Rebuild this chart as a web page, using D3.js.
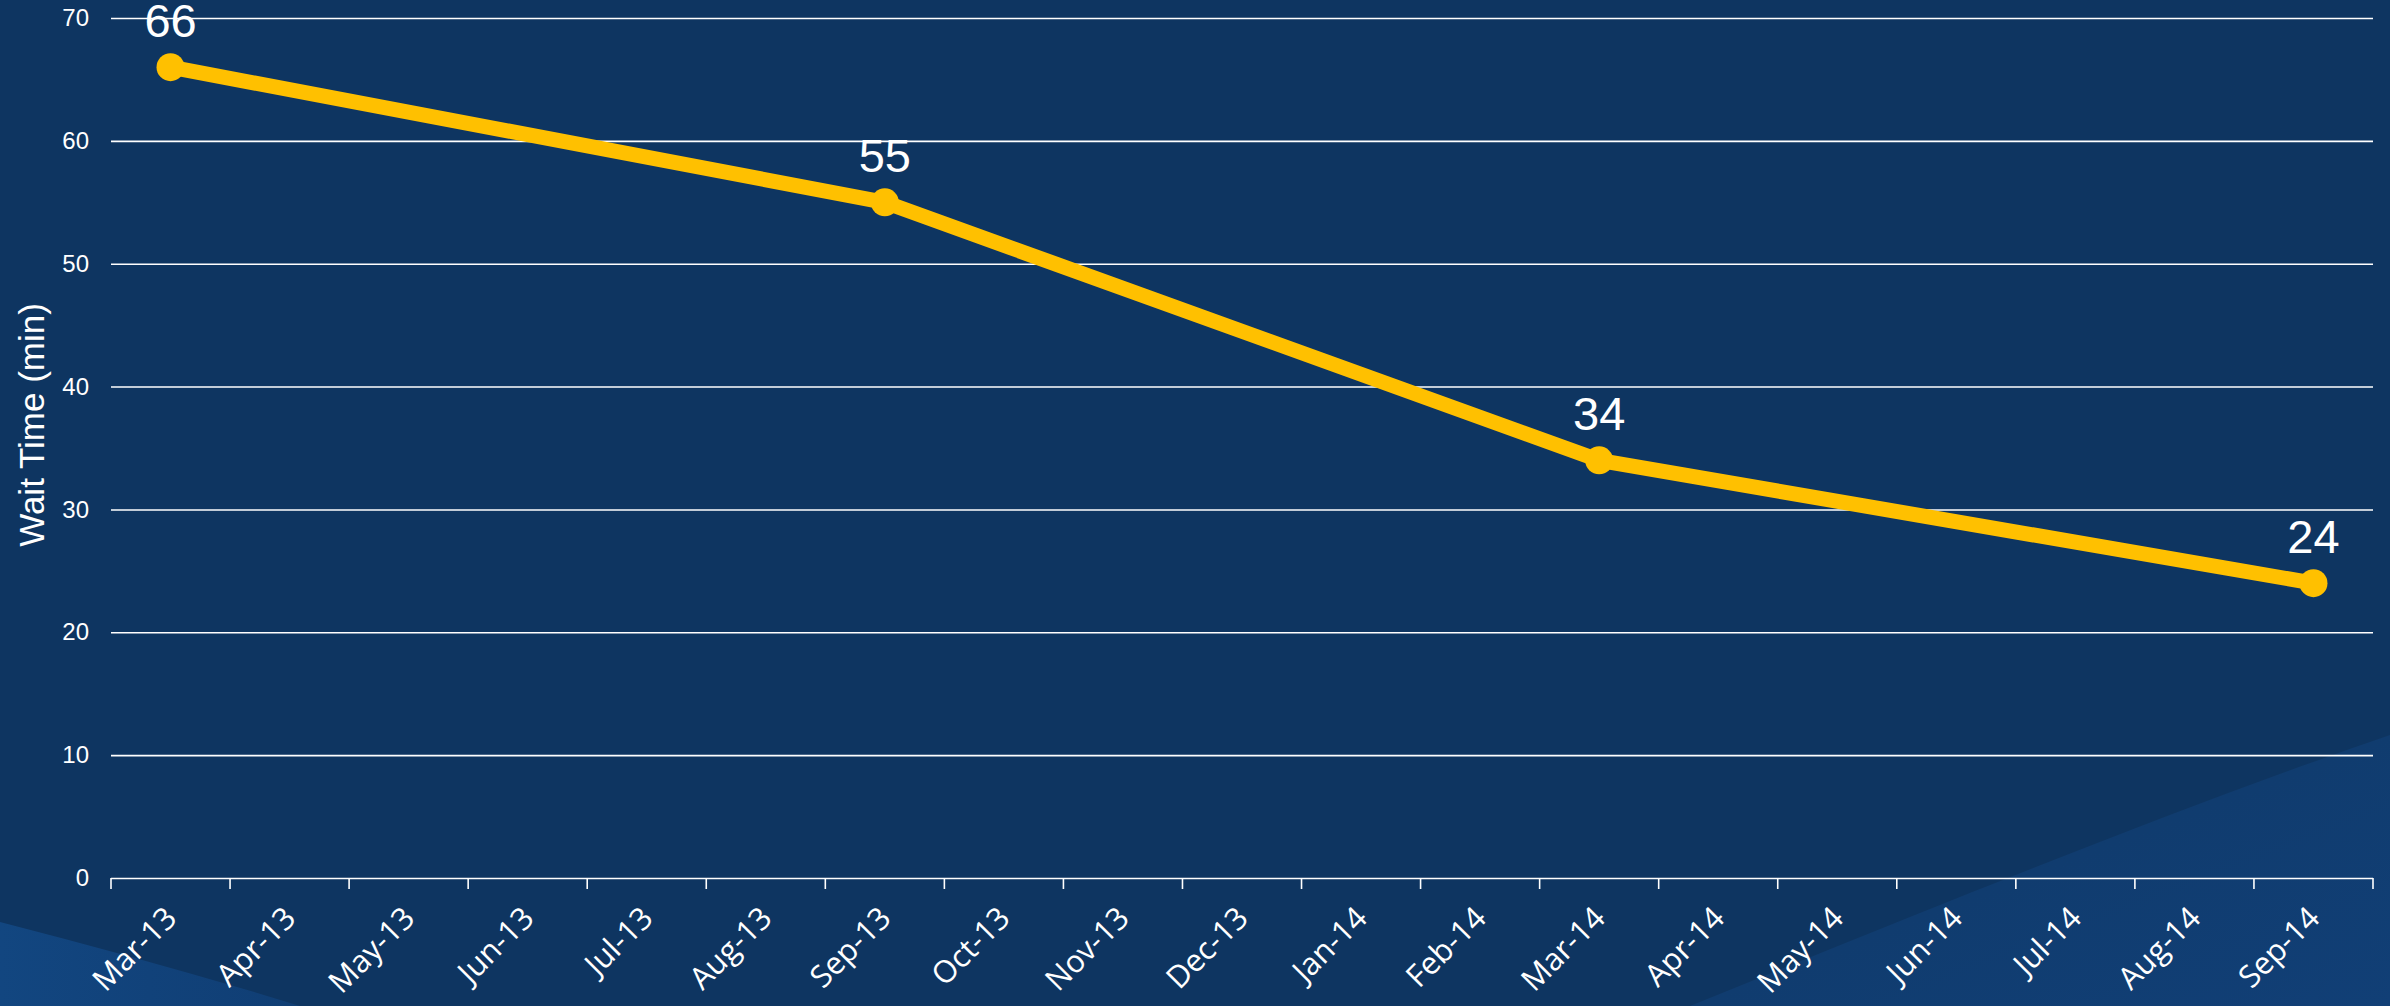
<!doctype html>
<html>
<head>
<meta charset="utf-8">
<script src="https://cdnjs.cloudflare.com/ajax/libs/d3/7.8.5/d3.min.js"></script>
<style>
  html, body { margin: 0; padding: 0; background: #0e3561; }
  svg { display: block; }
  .domain { stroke: none; }
</style>
</head>
<body>
<svg id="chart" width="2390" height="1006"></svg>
<script>
// months along the category axis
var months = ["Mar-13","Apr-13","May-13","Jun-13","Jul-13","Aug-13","Sep-13","Oct-13",
  "Nov-13","Dec-13","Jan-14","Feb-14","Mar-14","Apr-14","May-14","Jun-14","Jul-14",
  "Aug-14","Sep-14"];
// measured points
var pointMonths = ["Mar-13","Sep-13","Mar-14","Sep-14"];
var waitTimes = [66, 55, 34, 24];
var yTicks = [0,10,20,30,40,50,60,70];

var plotL = 111, plotR = 2373, plotT = 18, plotB = 878;

var svg = d3.select("#chart");

// background swooshes
var defs = svg.append("defs");
var g1 = defs.append("linearGradient").attr("id", "sw").attr("x1", 0).attr("y1", 0).attr("x2", 1).attr("y2", 1);
g1.append("stop").attr("offset", "0%").attr("stop-color", "#0f3968");
g1.append("stop").attr("offset", "100%").attr("stop-color", "#113f76");
var g2 = defs.append("linearGradient").attr("id", "sw2").attr("x1", 0).attr("y1", 0).attr("x2", 1).attr("y2", 0);
g2.append("stop").attr("offset", "0%").attr("stop-color", "#124680");
g2.append("stop").attr("offset", "100%").attr("stop-color", "#103e74");
svg.append("path")
  .attr("d", "M0,922 C100,948 200,975 300,1006 L0,1006 Z")
  .attr("fill", "url(#sw2)");
svg.append("path")
  .attr("d", "M1690,1006 C1950,900 2200,800 2390,735 L2390,1006 Z")
  .attr("fill", "url(#sw)");

var x = d3.scaleBand().domain(months).range([plotL, plotR]);
var y = d3.scaleLinear().domain([0, 70]).range([plotB, plotT]);

// gridlines + y labels
var yAxis = d3.axisLeft(y).tickValues(yTicks).tickSize(-(plotR - plotL)).tickPadding(22);
var yg = svg.append("g").attr("transform", "translate(" + plotL + ",0)").call(yAxis);
yg.selectAll(".tick line").attr("stroke", "#ffffff").attr("stroke-width", 1.6);
yg.selectAll(".tick text")
  .attr("fill", "#ffffff")
  .style("font-family", "'Liberation Sans', Arial, sans-serif")
  .style("font-size", "24px");

// x axis: ticks between categories, labels in band centres
var xg = svg.append("g").attr("transform", "translate(0," + plotB + ")");
var edges = months.map(function (m) { return x(m); }).concat([plotR]);
xg.selectAll("line.xt").data(edges).enter().append("line")
  .attr("class", "xt")
  .attr("x1", function (d) { return d; }).attr("x2", function (d) { return d; })
  .attr("y1", 0).attr("y2", 11)
  .attr("stroke", "#ffffff").attr("stroke-width", 1.6);
xg.selectAll("text").data(months).enter().append("text")
  .attr("transform", function (d) {
    return "translate(" + (x(d) + x.bandwidth() / 2 + 8) + ",42) rotate(-45)";
  })
  .attr("text-anchor", "end")
  .attr("fill", "#ffffff")
  .style("font-family", "'Open Sans', 'Noto Sans', sans-serif")
  .style("font-size", "31px")
  .text(function (d) { return d; });

// y title
svg.append("text")
  .attr("transform", "translate(44,425) rotate(-90)")
  .attr("text-anchor", "middle")
  .attr("fill", "#ffffff")
  .style("font-family", "'Liberation Sans', Arial, sans-serif")
  .style("font-size", "35px")
  .text("Wait Time (min)");

// series
var pts = pointMonths.map(function (m, i) { return { m: m, v: waitTimes[i] }; });
var cx = function (d) { return x(d.m) + x.bandwidth() / 2; };
var line = d3.line().x(cx).y(function (d) { return y(d.v); });

svg.append("path")
  .attr("d", line(pts))
  .attr("fill", "none")
  .attr("stroke", "#ffc000")
  .attr("stroke-width", 15)
  .attr("stroke-linejoin", "round");

svg.selectAll("circle.pt").data(pts).enter().append("circle")
  .attr("class", "pt")
  .attr("cx", cx)
  .attr("cy", function (d) { return y(d.v); })
  .attr("r", 14)
  .attr("fill", "#ffc000");

svg.selectAll("text.lbl").data(pts).enter().append("text")
  .attr("class", "lbl")
  .attr("x", cx)
  .attr("y", function (d) { return y(d.v) - 30; })
  .attr("text-anchor", "middle")
  .attr("fill", "#ffffff")
  .style("font-family", "'Liberation Sans', Arial, sans-serif")
  .style("font-size", "47px")
  .text(function (d) { return d.v; });
</script>
</body>
</html>
